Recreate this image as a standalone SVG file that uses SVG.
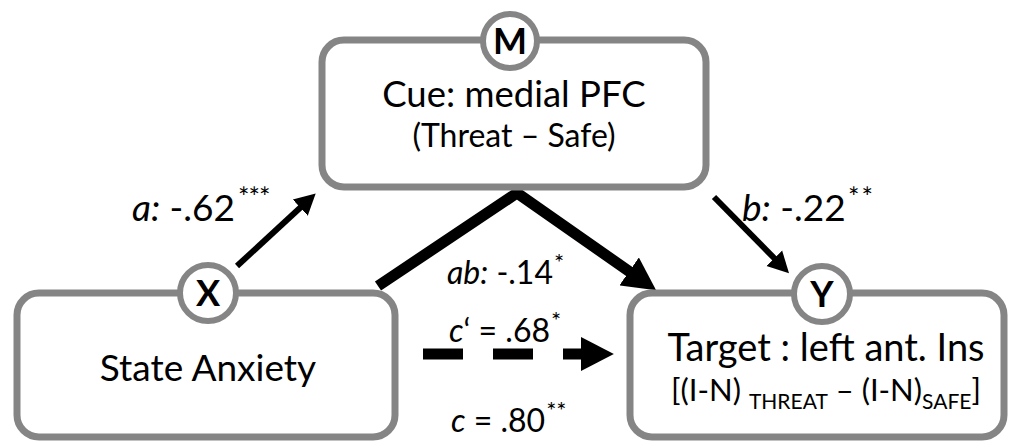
<svg xmlns="http://www.w3.org/2000/svg" width="1009" height="443" viewBox="0 0 1009 443">
<style>
.box{fill:#fff;stroke:#858585;stroke-width:7}
.badge{fill:#fff;stroke:#858585;stroke-width:6}
.lbl{font-family:Lato,"Open Sans",sans-serif;font-weight:bold;font-size:36px;fill:#000;text-anchor:middle}
.t{font-family:Lato,"Open Sans",sans-serif;fill:#000;text-anchor:middle}
.e{font-family:Lato,"Open Sans",sans-serif;fill:#000;font-size:37px}
.m{font-family:Lato,"Open Sans",sans-serif;fill:#000;font-size:32px}
.i{font-style:italic}
.s{font-size:27px}
.s2{font-size:24px}
.thin{stroke:#000;stroke-width:6;fill:none}
.thick{stroke:#000;stroke-width:11;fill:none;stroke-linejoin:miter}
</style>
<defs>
<marker id="hs" markerUnits="userSpaceOnUse" markerWidth="24" markerHeight="24" refX="1" refY="11" orient="auto" viewBox="0 0 24 22">
<path d="M0,0 L21,11 L0,22 z" fill="#000"/>
</marker>
<marker id="hl" markerUnits="userSpaceOnUse" markerWidth="34" markerHeight="34" refX="1" refY="16" orient="auto" viewBox="0 0 32 32">
<path d="M0,0 L31,16 L0,32 z" fill="#000"/>
</marker>
</defs>
<g id="connectors">
<line class="thin" x1="237" y1="266" x2="301" y2="207" marker-end="url(#hs)"/>
<line class="thin" x1="714" y1="197" x2="775" y2="259" marker-end="url(#hs)"/>
<polyline class="thick" points="378,286 517,193 630,272" marker-end="url(#hl)"/>
<line class="thick" x1="423" y1="354" x2="582" y2="354" stroke-dasharray="40 30" marker-end="url(#hl)"/>
<text class="e" x="132" y="221"><tspan class="i">a:</tspan> -.62<tspan class="s" x="238" dy="-14" letter-spacing="-1">***</tspan></text>
<text class="e" x="742" y="221"><tspan class="i">b:</tspan> -.22<tspan class="s" x="848" dy="-14" letter-spacing="2">**</tspan></text>
<text class="m" x="447" y="284"><tspan class="i">ab:</tspan> -.14<tspan class="s2" dy="-13" dx="1">*</tspan></text>
<text class="m" x="449" y="342"><tspan class="i">c</tspan>‘ = .68<tspan class="s2" dy="-13" dx="1">*</tspan></text>
<text class="m" x="451" y="432"><tspan class="i">c</tspan> = .80<tspan class="s2" dy="-13" dx="1">**</tspan></text>
</g>
<g id="M">
<rect class="box" x="322" y="40" width="384" height="147" rx="22"/>
<circle class="badge" cx="510" cy="41" r="27"/>
<text class="lbl" x="510" y="54">M</text>
<text class="t" x="514" y="107" font-size="36.5">Cue: medial PFC</text>
<text class="t" x="514" y="147" font-size="32">(Threat – Safe)</text>
</g>
<g id="X">
<rect class="box" x="17" y="293" width="378" height="144" rx="22"/>
<circle class="badge" cx="208" cy="293" r="28"/>
<text class="lbl" x="208" y="306">X</text>
<text class="t" x="208" y="381" font-size="37">State Anxiety</text>
</g>
<g id="Y">
<rect class="box" x="630" y="293" width="374" height="144" rx="22"/>
<circle class="badge" cx="822" cy="294" r="28"/>
<text class="lbl" x="822" y="307">Y</text>
<text class="t" x="826" y="361" font-size="38">Target : left ant. Ins</text>
<text class="t" x="826" y="401" font-size="31">[(I-N) <tspan font-size="21" dy="8">THREAT</tspan><tspan dy="-8"> – (I-N)</tspan><tspan font-size="21" dy="8">SAFE</tspan><tspan dy="-8">]</tspan></text>
</g>
</svg>
